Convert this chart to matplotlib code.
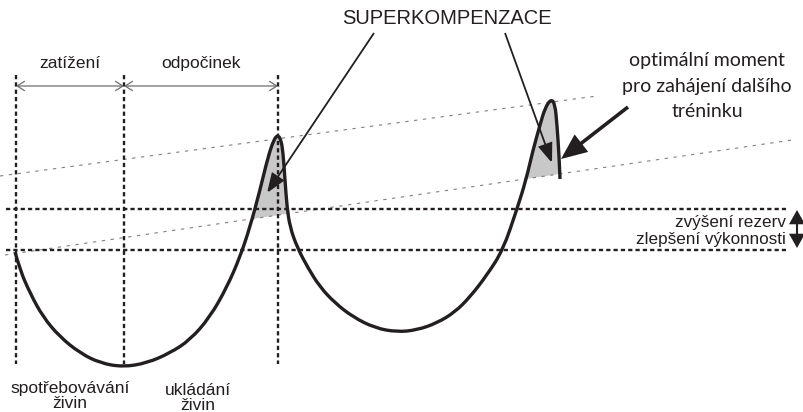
import numpy as np
import matplotlib as mpl
import matplotlib.pyplot as plt
from matplotlib.patches import FancyArrowPatch, PathPatch
from matplotlib.path import Path

# traced outline of the performance curve (pixel space, y grows downward)
CURVE_X = [15, 20, 30, 43, 60, 80, 100, 123, 147, 170, 190, 210, 227, 240,
           250, 260, 268, 274, 278, 281, 283, 285, 287, 290, 297, 308, 320,
           335, 353, 375, 397, 417, 437, 455, 470, 487, 503, 517, 526, 533,
           540, 545, 551, 555, 557, 559, 560]
CURVE_Y = [252, 270, 293, 317, 337, 353, 363, 367, 363, 353, 340, 317, 287,
           257, 227, 190, 157, 139, 135, 140, 152, 180, 207, 227, 247, 268,
           287, 303, 317, 328, 332, 330, 323, 312, 297, 275, 250, 209, 180,
           150, 125, 108, 99, 104, 125, 155, 179]

PHASE_X = [16, 124, 278]
LEVEL_Y = [209, 250]
TREND_UPPER_X = [0, 597]
TREND_UPPER_Y = [176, 96]
TREND_LOWER_X = [5, 792]
TREND_LOWER_Y = [255, 140]

PHASE_LABELS = ["zatížení", "odpočinek"]
BOTTOM_LABELS = ["spotřebovávání\nživin", "ukládání\nživin"]
NOTE_LINES = ["optimální moment", "pro zahájení dalšího", "tréninku"]
LEVEL_LINES = ["zvýšení rezerv", "zlepšení výkonnosti"]

INK = "#231f20"
SANS = ["Liberation Sans", "DejaVu Sans"]
NOTE_FONT = ["Lato", "DejaVu Sans"]

mpl.rcParams["font.family"] = SANS


def arrow(ax, p0, p1, style, lw, color=INK, scale=10):
    a = FancyArrowPatch(p0, p1, arrowstyle=style, mutation_scale=scale,
                        linewidth=lw, color=color, shrinkA=0, shrinkB=0,
                        joinstyle="miter", capstyle="butt", zorder=6)
    ax.add_patch(a)


def smooth_path(xs, ys):
    # traced points used as quadratic bezier controls, midpoints on the curve
    pts = np.column_stack([xs, ys]).astype(float)
    verts = [pts[0]]
    codes = [Path.MOVETO]
    for i in range(1, len(pts) - 1):
        mid = (pts[i] + pts[i + 1]) / 2
        verts += [pts[i], mid]
        codes += [Path.CURVE3, Path.CURVE3]
    verts.append(pts[-1])
    codes.append(Path.LINETO)
    return Path(np.array(verts), codes)


def main():
    fig = plt.figure(figsize=(8.04, 4.12), dpi=100)
    ax = fig.add_axes([0, 0, 1, 1])
    ax.set_xlim(0, 804)
    ax.set_ylim(412, 0)
    ax.axis("off")

    path = smooth_path(CURVE_X, CURVE_Y)
    flat = path.to_polygons(closed_only=False)[0]
    fx, fy = flat[:, 0], flat[:, 1]
    order = np.argsort(fx, kind="stable")
    fx, fy = fx[order], fy[order]
    trend = np.interp(fx, TREND_LOWER_X, TREND_LOWER_Y)

    # shaded supercompensation areas above the lower trend line
    ax.fill_between(fx, fy, trend, where=(fy < trend) & (fx > 200),
                    interpolate=True, color="#c8c8c8", linewidth=0, zorder=1)

    # thin grey trend lines
    ax.plot(TREND_UPPER_X, TREND_UPPER_Y, color="#808080", lw=0.8,
            linestyle=(0, (3, 5)), zorder=2)
    ax.plot(TREND_LOWER_X, TREND_LOWER_Y, color="#808080", lw=0.8,
            linestyle=(0, (3, 5)), zorder=2)

    # phase boundaries and level lines
    for x in PHASE_X:
        ax.plot([x, x], [75, 364], color=INK, lw=1.7,
                linestyle=(0, (1.8, 1.3)), zorder=3)
    for y in LEVEL_Y:
        ax.plot([6, 786], [y, y], color=INK, lw=1.7,
                linestyle=(0, (1.8, 1.3)), zorder=3)

    ax.add_patch(PathPatch(path, facecolor="none", edgecolor=INK, lw=2.4,
                           joinstyle="round", capstyle="butt", zorder=4))

    # interval arrows
    for i in range(2):
        arrow(ax, (PHASE_X[i], 86), (PHASE_X[i + 1], 86),
              "<->,head_length=0.55,head_width=0.35", 0.9, color="#6d6d6d")
        ax.text((PHASE_X[i] + PHASE_X[i + 1]) / 2, 63, PHASE_LABELS[i],
                ha="center", va="center", fontsize=12.5, color=INK)

    ax.text(70, 396, BOTTOM_LABELS[0], ha="center", va="center",
            fontsize=12.5, color=INK, linespacing=1.0)
    ax.text(198, 398, BOTTOM_LABELS[1], ha="center", va="center",
            fontsize=12.5, color=INK, linespacing=1.0)

    ax.text(447, 18, "SUPERKOMPENZACE", ha="center", va="center",
            fontsize=14.5, color=INK)
    arrow(ax, (374, 33), (267, 193),
          "-|>,head_length=1.2,head_width=0.45", 1.3)
    arrow(ax, (505, 33), (552, 163),
          "-|>,head_length=1.2,head_width=0.45", 1.3)

    for text, y in zip(NOTE_LINES, [60, 86, 111]):
        ax.text(707, y, text, ha="center", va="center", fontsize=14,
                color=INK, family=NOTE_FONT)
    arrow(ax, (628, 107), (561, 159),
          "-|>,head_length=1.4,head_width=0.6", 2.6)

    for text, y in zip(LEVEL_LINES, [222, 239]):
        ax.text(786, y, text, ha="right", va="center", fontsize=12.3,
                color=INK)
    arrow(ax, (797, 210), (797, 248),
          "<|-|>,head_length=0.8,head_width=0.45", 1.5)

    fig.savefig("out.png", dpi=100)
    plt.close(fig)


if __name__ == "__main__":
    main()
